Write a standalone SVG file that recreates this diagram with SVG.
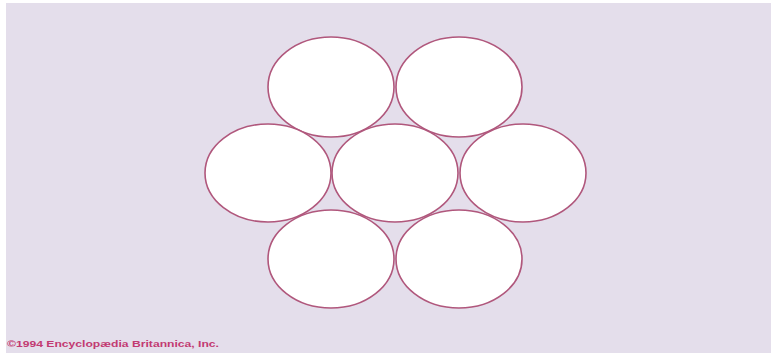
<svg xmlns="http://www.w3.org/2000/svg" width="771" height="353" viewBox="0 0 771 353">
<style>
.c{fill:#ffffff;stroke:#b0577c;stroke-width:1.6}
.t{font-family:"Liberation Sans",Arial,sans-serif;font-size:8.5px;font-weight:bold;fill:#c23a72}
</style>
<rect width="771" height="353" fill="#ffffff"/>
<rect x="6" y="3" width="765" height="350" fill="#e4deeb"/>
<g id="top-left"><ellipse class="c" cx="331" cy="87" rx="63" ry="50"/></g>
<g id="top-right"><ellipse class="c" cx="459" cy="87" rx="63" ry="50"/></g>
<g id="mid-left"><ellipse class="c" cx="268" cy="173" rx="63" ry="49"/></g>
<g id="center"><ellipse class="c" cx="395" cy="173" rx="63" ry="49"/></g>
<g id="mid-right"><ellipse class="c" cx="523" cy="173" rx="63" ry="49"/></g>
<g id="bottom-left"><ellipse class="c" cx="331" cy="259" rx="63" ry="49"/></g>
<g id="bottom-right"><ellipse class="c" cx="459" cy="259" rx="63" ry="49"/></g>
<text class="t" x="7" y="347" textLength="212" lengthAdjust="spacingAndGlyphs">©1994 Encyclopædia Britannica, Inc.</text>
</svg>
